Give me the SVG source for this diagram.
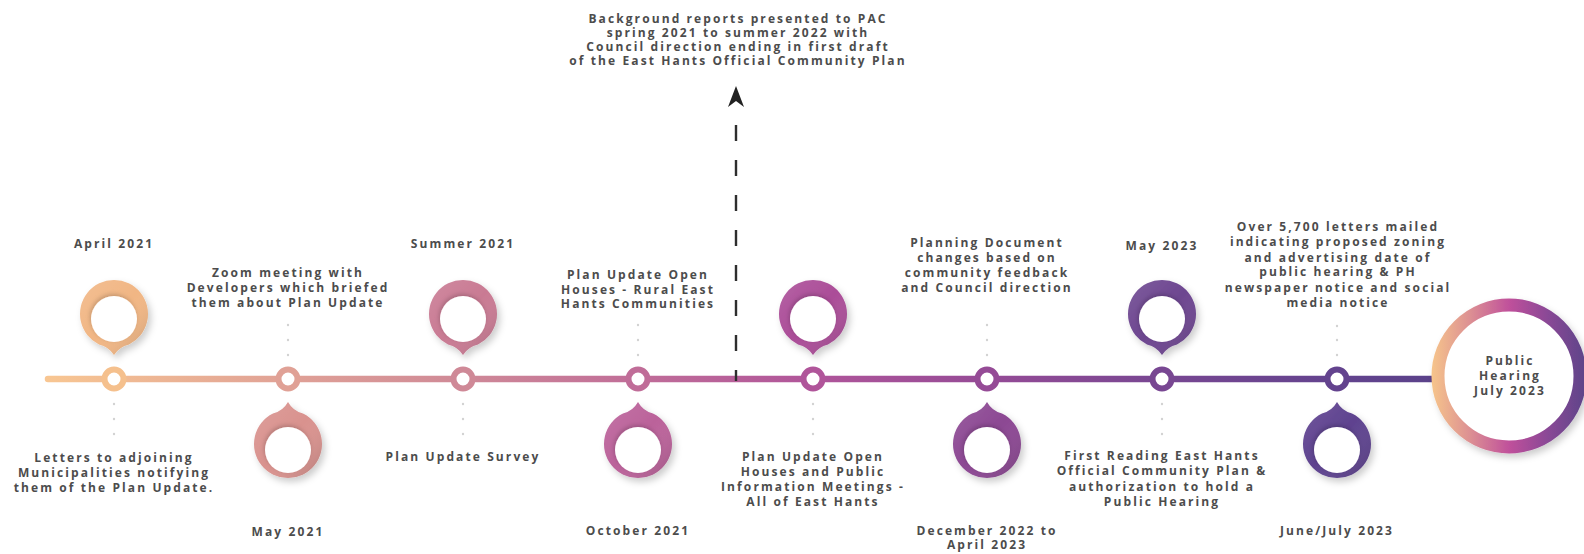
<svg xmlns="http://www.w3.org/2000/svg" width="1584" height="554" viewBox="0 0 1584 554">
<style>
.t{font-family:"Open Sans","Liberation Sans",sans-serif;font-weight:700;font-size:12px;letter-spacing:2.1px;fill:#4c4c4c;text-anchor:middle}
.dot{fill:#d2d2d2}
.ring{fill:#fff;stroke-width:6}
.inner{fill:#fff}
</style>
<defs>
<linearGradient id="lineGrad" gradientUnits="userSpaceOnUse" x1="48" y1="0" x2="1432" y2="0">
<stop offset="0" stop-color="#f8c692"/>
<stop offset="0.173" stop-color="#e0a196"/>
<stop offset="0.30" stop-color="#cf8997"/>
<stop offset="0.426" stop-color="#c06d98"/>
<stop offset="0.552" stop-color="#b0559a"/>
<stop offset="0.678" stop-color="#954b96"/>
<stop offset="0.804" stop-color="#784792"/>
<stop offset="0.93" stop-color="#63438e"/>
<stop offset="1" stop-color="#5b428a"/>
</linearGradient>
<linearGradient id="bigGrad" gradientUnits="userSpaceOnUse" x1="1432" y1="0" x2="1586" y2="0">
<stop offset="0" stop-color="#f6c48b"/>
<stop offset="0.25" stop-color="#dc8f93"/>
<stop offset="0.5" stop-color="#c0519b"/>
<stop offset="0.75" stop-color="#8a4896"/>
<stop offset="1" stop-color="#5d4489"/>
</linearGradient>
<linearGradient id="shade" x1="0" y1="0" x2="1" y2="1">
<stop offset="0" stop-color="#fff" stop-opacity="0.12"/>
<stop offset="0.5" stop-color="#fff" stop-opacity="0"/>
<stop offset="1" stop-color="#000" stop-opacity="0.18"/>
</linearGradient>
<filter id="shadow" x="-40%" y="-40%" width="180%" height="180%">
<feDropShadow dx="3" dy="4" stdDeviation="3.5" flood-color="#000" flood-opacity="0.2"/>
</filter>
<filter id="inShadow" x="-30%" y="-30%" width="160%" height="160%">
<feDropShadow dx="-1" dy="-2" stdDeviation="2" flood-color="#000" flood-opacity="0.18"/>
</filter>
<path id="pinDown" d="M -15,30.5 A34 34 0 1 1 15,30.5 Q 5,33 0,41 Q -5,33 -15,30.5 Z"/>
<path id="pinUp" d="M 15,-30.5 A34 34 0 1 1 -15,-30.5 Q -5,-33 0,-42 Q 5,-33 15,-30.5 Z"/>
</defs>
<rect width="1584" height="554" fill="#fff"/>

<g id="connectors">
<line x1="48" y1="379" x2="1440" y2="379" stroke="url(#lineGrad)" stroke-width="6.5" stroke-linecap="round"/>
<line x1="736" y1="125" x2="736" y2="381" stroke="#2e2e2e" stroke-width="2.4" stroke-dasharray="16 19"/>
<path d="M736,86 L744,107 L736,101 L728,107 Z" fill="#222"/>
</g>

<g id="note">
<text class="t"><tspan x="738" y="23">Background reports presented to PAC</tspan><tspan x="738" y="37">spring 2021 to summer 2022 with</tspan><tspan x="738" y="51">Council direction ending in first draft</tspan><tspan x="738" y="65">of the East Hants Official Community Plan</tspan></text>
</g>

<g id="node-april-2021">
<g transform="translate(114,314)" filter="url(#shadow)"><use href="#pinDown" fill="#f1b684"/><use href="#pinDown" fill="url(#shade)"/></g>
<circle class="inner" cx="114" cy="319" r="23" filter="url(#inShadow)"/>
<circle class="ring" cx="114" cy="379" r="9.5" stroke="#f5c08d"/>
<circle class="dot" cx="114" cy="404" r="1.2"/><circle class="dot" cx="114" cy="419" r="1.2"/><circle class="dot" cx="114" cy="434" r="1.2"/>
<text class="t" x="114" y="248">April 2021</text>
<text class="t"><tspan x="114" y="462">Letters to adjoining</tspan><tspan x="114" y="477">Municipalities notifying</tspan><tspan x="114" y="492">them of the Plan Update.</tspan></text>
</g>

<g id="node-may-2021">
<g transform="translate(288,444)" filter="url(#shadow)"><use href="#pinUp" fill="#d9928e"/><use href="#pinUp" fill="url(#shade)"/></g>
<circle class="inner" cx="288" cy="450" r="23" filter="url(#inShadow)"/>
<circle class="ring" cx="288" cy="379" r="9.5" stroke="#e0a196"/>
<circle class="dot" cx="288" cy="325" r="1.2"/><circle class="dot" cx="288" cy="340" r="1.2"/><circle class="dot" cx="288" cy="355" r="1.2"/>
<text class="t"><tspan x="288" y="277">Zoom meeting with</tspan><tspan x="288" y="292">Developers which briefed</tspan><tspan x="288" y="307">them about Plan Update</tspan></text>
<text class="t" x="288" y="536">May 2021</text>
</g>

<g id="node-summer-2021">
<g transform="translate(463,314)" filter="url(#shadow)"><use href="#pinDown" fill="#c97a93"/><use href="#pinDown" fill="url(#shade)"/></g>
<circle class="inner" cx="463" cy="319" r="23" filter="url(#inShadow)"/>
<circle class="ring" cx="463" cy="379" r="9.5" stroke="#cf8997"/>
<circle class="dot" cx="463" cy="404" r="1.2"/><circle class="dot" cx="463" cy="419" r="1.2"/><circle class="dot" cx="463" cy="434" r="1.2"/>
<text class="t" x="463" y="248">Summer 2021</text>
<text class="t" x="463" y="461">Plan Update Survey</text>
</g>

<g id="node-october-2021">
<g transform="translate(638,444)" filter="url(#shadow)"><use href="#pinUp" fill="#bb629a"/><use href="#pinUp" fill="url(#shade)"/></g>
<circle class="inner" cx="638" cy="450" r="23" filter="url(#inShadow)"/>
<circle class="ring" cx="638" cy="379" r="9.5" stroke="#c06d98"/>
<circle class="dot" cx="638" cy="325" r="1.2"/><circle class="dot" cx="638" cy="340" r="1.2"/><circle class="dot" cx="638" cy="355" r="1.2"/>
<text class="t"><tspan x="638" y="279">Plan Update Open</tspan><tspan x="638" y="294">Houses - Rural East</tspan><tspan x="638" y="308">Hants Communities</tspan></text>
<text class="t" x="638" y="535">October 2021</text>
</g>

<g id="node-open-houses">
<g transform="translate(813,314)" filter="url(#shadow)"><use href="#pinDown" fill="#ab4d98"/><use href="#pinDown" fill="url(#shade)"/></g>
<circle class="inner" cx="813" cy="319" r="23" filter="url(#inShadow)"/>
<circle class="ring" cx="813" cy="379" r="9.5" stroke="#b0559a"/>
<circle class="dot" cx="813" cy="404" r="1.2"/><circle class="dot" cx="813" cy="419" r="1.2"/><circle class="dot" cx="813" cy="434" r="1.2"/>
<text class="t"><tspan x="813" y="461">Plan Update Open</tspan><tspan x="813" y="476">Houses and Public</tspan><tspan x="813" y="491">Information Meetings -</tspan><tspan x="813" y="506">All of East Hants</tspan></text>
</g>

<g id="node-dec-2022">
<g transform="translate(987,444)" filter="url(#shadow)"><use href="#pinUp" fill="#8c4893"/><use href="#pinUp" fill="url(#shade)"/></g>
<circle class="inner" cx="987" cy="450" r="23" filter="url(#inShadow)"/>
<circle class="ring" cx="987" cy="379" r="9.5" stroke="#954b96"/>
<circle class="dot" cx="987" cy="325" r="1.2"/><circle class="dot" cx="987" cy="340" r="1.2"/><circle class="dot" cx="987" cy="355" r="1.2"/>
<text class="t"><tspan x="987" y="247">Planning Document</tspan><tspan x="987" y="262">changes based on</tspan><tspan x="987" y="277">community feedback</tspan><tspan x="987" y="292">and Council direction</tspan></text>
<text class="t"><tspan x="987" y="535">December 2022 to</tspan><tspan x="987" y="549">April 2023</tspan></text>
</g>

<g id="node-may-2023">
<g transform="translate(1162,314)" filter="url(#shadow)"><use href="#pinDown" fill="#6d4690"/><use href="#pinDown" fill="url(#shade)"/></g>
<circle class="inner" cx="1162" cy="319" r="23" filter="url(#inShadow)"/>
<circle class="ring" cx="1162" cy="379" r="9.5" stroke="#784792"/>
<circle class="dot" cx="1162" cy="404" r="1.2"/><circle class="dot" cx="1162" cy="419" r="1.2"/><circle class="dot" cx="1162" cy="434" r="1.2"/>
<text class="t" x="1162" y="250">May 2023</text>
<text class="t"><tspan x="1162" y="460">First Reading East Hants</tspan><tspan x="1162" y="475">Official Community Plan &amp;</tspan><tspan x="1162" y="491">authorization to hold a</tspan><tspan x="1162" y="506">Public Hearing</tspan></text>
</g>

<g id="node-june-2023">
<g transform="translate(1337,444)" filter="url(#shadow)"><use href="#pinUp" fill="#5e428f"/><use href="#pinUp" fill="url(#shade)"/></g>
<circle class="inner" cx="1337" cy="450" r="23" filter="url(#inShadow)"/>
<circle class="ring" cx="1337" cy="379" r="9.5" stroke="#63438e"/>
<circle class="dot" cx="1337" cy="326" r="1.2"/><circle class="dot" cx="1337" cy="340" r="1.2"/><circle class="dot" cx="1337" cy="355" r="1.2"/>
<text class="t"><tspan x="1338" y="231">Over 5,700 letters mailed</tspan><tspan x="1338" y="246">indicating proposed zoning</tspan><tspan x="1338" y="262">and advertising date of</tspan><tspan x="1338" y="276">public hearing &amp; PH</tspan><tspan x="1338" y="292">newspaper notice and social</tspan><tspan x="1338" y="307">media notice</tspan></text>
<text class="t" x="1337" y="535">June/July 2023</text>
</g>

<g id="node-public-hearing">
<circle cx="1509" cy="376" r="71" fill="#fff" stroke="url(#bigGrad)" stroke-width="13" filter="url(#shadow)"/>
<text class="t"><tspan x="1510" y="365">Public</tspan><tspan x="1510" y="380">Hearing</tspan><tspan x="1510" y="395">July 2023</tspan></text>
</g>
</svg>
